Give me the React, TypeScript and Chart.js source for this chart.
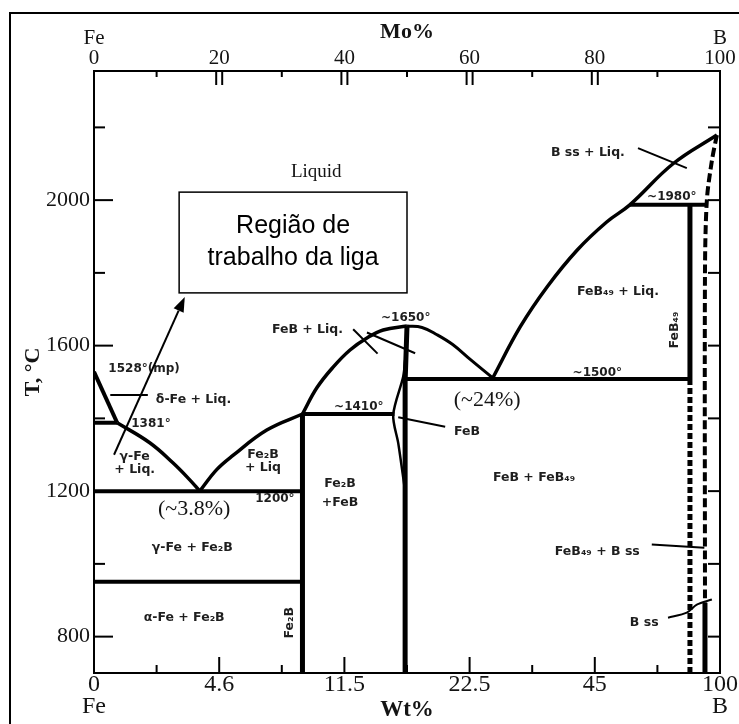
import React, { useEffect, useRef } from 'react';
import { Chart, registerables } from 'chart.js';

Chart.register(...registerables);

// ---------- axes ----------
const X_MIN = 0;
const X_MAX = 100;
const T_MIN = 700;
const T_MAX = 2355;
const atPercentTicks = [0, 20, 40, 60, 80, 100];
const wtPercentLabels = ['0', '4.6', '11.5', '22.5', '45', '100'];
const endElements = ['Fe', 'B'];
const tempTickLabels = [800, 1200, 1600, 2000];

// ---------- phase boundaries (x: at.% B, y: T in °C) ----------
const deltaLiquidus = [{ x: 0, y: 1528 }, { x: 3.7, y: 1388 }];
const peritecticFe = [{ x: 0, y: 1388 }, { x: 3.7, y: 1388 }];
const gammaLiquidus = [{ x: 3.7, y: 1388 }, { x: 8.9, y: 1333 }, { x: 12.6, y: 1278 }, { x: 15.3, y: 1231 }, { x: 16.9, y: 1200 }];
const fe2bLiquidus = [{ x: 16.9, y: 1200 }, { x: 19.6, y: 1259 }, { x: 22.2, y: 1298 }, { x: 27.6, y: 1368 }, { x: 33.3, y: 1412 }];
const eutectic1200 = [{ x: 0, y: 1200 }, { x: 33.3, y: 1200 }];
const alphaGammaLine = [{ x: 0, y: 951 }, { x: 33.3, y: 951 }];
const fe2bLine = [{ x: 33.3, y: 1412 }, { x: 33.3, y: 700 }];
const peritectic1410 = [{ x: 33.3, y: 1412 }, { x: 48, y: 1412 }];
const feBLiquidusLeft = [{ x: 33.3, y: 1412 }, { x: 35.6, y: 1484 }, { x: 38.2, y: 1541 }, { x: 40.9, y: 1588 }, { x: 43.6, y: 1621 }, { x: 46.2, y: 1643 }, { x: 50, y: 1654 }];
const feBLiquidusRight = [{ x: 50, y: 1654 }, { x: 52.4, y: 1650 }, { x: 54.8, y: 1630 }, { x: 57.3, y: 1603 }, { x: 60.1, y: 1562 }, { x: 63.7, y: 1511 }];
const feBLine = [{ x: 50, y: 1654 }, { x: 49.7, y: 1500 }, { x: 49.7, y: 700 }];
const feBLeftBoundary = [{ x: 49.7, y: 1560 }, { x: 49.4, y: 1515 }, { x: 47.8, y: 1410 }, { x: 48.6, y: 1332 }, { x: 49.3, y: 1249 }, { x: 49.7, y: 1200 }];
const eutectic1500 = [{ x: 49.7, y: 1508 }, { x: 95.2, y: 1508 }];
const feB49Liquidus = [{ x: 63.7, y: 1511 }, { x: 68.1, y: 1652 }, { x: 72.4, y: 1762 }, { x: 77.2, y: 1863 }, { x: 81.9, y: 1940 }, { x: 85.6, y: 1987 }, { x: 92.5, y: 2100 }, { x: 99.5, y: 2179 }];
const peritectic1980 = [{ x: 85.6, y: 1987 }, { x: 97.9, y: 1987 }];
const feB49Solid = [{ x: 95.2, y: 1987 }, { x: 95.2, y: 1508 }];
const feB49Dashed = [{ x: 95.2, y: 1508 }, { x: 95.2, y: 700 }];
const bSolvus = [{ x: 99.5, y: 2179 }, { x: 98.7, y: 2108 }, { x: 97.9, y: 2000 }, { x: 97.6, y: 1800 }, { x: 97.6, y: 893 }];
const bSolvusLower = [{ x: 97.6, y: 893 }, { x: 97.6, y: 700 }];

// ---------- label leader lines ----------
const leaderDeltaFe = [{ x: 2.6, y: 1464 }, { x: 8.6, y: 1464 }];
const leaderFeBLiq1 = [{ x: 41.4, y: 1645 }, { x: 45.3, y: 1578 }];
const leaderFeBLiq2 = [{ x: 43.6, y: 1636 }, { x: 51.3, y: 1579 }];
const leaderFeB = [{ x: 48.6, y: 1403 }, { x: 56.1, y: 1377 }];
const leaderBssLiq = [{ x: 86.9, y: 2143 }, { x: 94.7, y: 2088 }];
const leaderFeB49Bss = [{ x: 89.1, y: 1053 }, { x: 97.5, y: 1044 }];
const leaderBss = [{ x: 91.7, y: 852 }, { x: 94.7, y: 866 }, { x: 96.3, y: 888 }, { x: 98.7, y: 902 }];

// ---------- text labels (positions in data units) ----------
const serifLabels = [
  { text: '(~3.8%)', x: 16.0, y: 1149 },
  { text: '(~24%)', x: 62.8, y: 1451 },
];
const liquidLabel = [{ text: 'Liquid', x: 35.5, y: 2077 }];
const phaseLabels = [
  { text: 'δ-Fe + Liq.', x: 15.9, y: 1451 },
  { text: 'γ-Fe', x: 6.5, y: 1294 },
  { text: '+ Liq.', x: 6.5, y: 1259 },
  { text: 'Fe₂B', x: 27.0, y: 1300 },
  { text: '+ Liq', x: 27.0, y: 1264 },
  { text: 'Fe₂B', x: 39.3, y: 1220 },
  { text: '+FeB', x: 39.3, y: 1168 },
  { text: 'γ-Fe + Fe₂B', x: 15.7, y: 1044 },
  { text: 'α-Fe + Fe₂B', x: 14.4, y: 852 },
  { text: 'FeB + Liq.', x: 34.1, y: 1643 },
  { text: 'FeB', x: 59.6, y: 1363 },
  { text: 'FeB + FeB₄₉', x: 70.3, y: 1237 },
  { text: 'FeB₄₉ + Liq.', x: 83.7, y: 1747 },
  { text: 'B ss + Liq.', x: 78.9, y: 2129 },
  { text: 'FeB₄₉ + B ss', x: 80.4, y: 1033 },
  { text: 'B ss', x: 87.9, y: 838 },
];
const tempLabels = [
  { text: '1528°(mp)', x: 8.0, y: 1536 },
  { text: '1381°', x: 9.1, y: 1385 },
  { text: '1200°', x: 28.9, y: 1179 },
  { text: '~1650°', x: 49.8, y: 1676 },
  { text: '~1410°', x: 42.3, y: 1431 },
  { text: '~1500°', x: 80.4, y: 1525 },
  { text: '~1980°', x: 92.3, y: 2008 },
];
const rotatedLabels = [
  { text: 'Fe₂B', x: 31.3, y: 838 },
  { text: 'FeB₄₉', x: 92.8, y: 1643 },
];

// ---------- annotation ----------
const noteLines = ['Região de', 'trabalho da liga'];
const noteLineY = [1929, 1841];
const noteCenterX = 31.8;
const noteBox = { x1: 13.6, y1: 2022, x2: 50.0, y2: 1745 };
const noteArrow = { x1: 3.2, y1: 1300, x2: 14.5, y2: 1734 };

// ---------- helpers ----------
const BLACK = '#000';
const TEXT = '#141414';
const LABEL = '#1e1e1e';
const SERIF = '"Liberation Serif", "Times New Roman", serif';
const SANS = '"DejaVu Sans", "Liberation Sans", sans-serif';

function line(data: any[], width: number, extra: any = {}) {
  return {
    data,
    showLine: true,
    borderColor: BLACK,
    backgroundColor: BLACK,
    borderWidth: width,
    pointRadius: 0,
    pointHoverRadius: 0,
    fill: false,
    tension: 0,
    ...extra,
  };
}
const curve = { tension: 0.4 };

const inwardTicks = {
  id: 'inwardTicks',
  afterDatasetsDraw(chart: any) {
    const { ctx, chartArea: a, scales } = chart;
    ctx.save();
    ctx.strokeStyle = BLACK;
    ctx.lineWidth = 2;
    const seg = (x1: number, y1: number, x2: number, y2: number) => {
      ctx.beginPath();
      ctx.moveTo(x1, y1);
      ctx.lineTo(x2, y2);
      ctx.stroke();
    };
    scales.x.ticks.forEach((t: any) => {
      if (t.value <= X_MIN || t.value >= X_MAX) return;
      const p = scales.x.getPixelForValue(t.value);
      const major = atPercentTicks.includes(t.value);
      seg(p, a.bottom, p, a.bottom - (major ? 16 : 8));
    });
    scales.x2.ticks.forEach((t: any) => {
      if (t.value <= X_MIN || t.value >= X_MAX) return;
      const p = scales.x2.getPixelForValue(t.value);
      const major = atPercentTicks.includes(t.value);
      if (major) {
        seg(p - 3, a.top, p - 3, a.top + 14);
        seg(p + 3, a.top, p + 3, a.top + 14);
      } else {
        seg(p, a.top, p, a.top + 6);
      }
    });
    scales.y.ticks.forEach((t: any) => {
      const p = scales.y.getPixelForValue(t.value);
      const major = tempTickLabels.includes(t.value);
      seg(a.left, p, a.left + (major ? 19 : 11), p);
      seg(a.right, p, a.right - 12, p);
    });
    ctx.restore();
  },
};

const textAndNotes = {
  id: 'textAndNotes',
  afterDatasetsDraw(chart: any) {
    const { ctx, scales } = chart;
    const px = (v: number) => scales.x.getPixelForValue(v);
    const py = (v: number) => scales.y.getPixelForValue(v);
    ctx.save();
    ctx.textAlign = 'center';
    ctx.textBaseline = 'middle';
    const draw = (list: any[], font: string, color: string) => {
      ctx.font = font;
      ctx.fillStyle = color;
      list.forEach((l) => ctx.fillText(l.text, px(l.x), py(l.y)));
    };
    draw(serifLabels, `22px ${SERIF}`, TEXT);
    draw(liquidLabel, `19px ${SERIF}`, TEXT);
    draw(phaseLabels, `bold 12.5px ${SANS}`, LABEL);
    draw(tempLabels, `bold 12px ${SANS}`, LABEL);
    ctx.font = `bold 12.5px ${SANS}`;
    rotatedLabels.forEach((l) => {
      ctx.save();
      ctx.translate(px(l.x), py(l.y));
      ctx.rotate(-Math.PI / 2);
      ctx.fillText(l.text, 0, 0);
      ctx.restore();
    });

    // annotation box
    const bx1 = px(noteBox.x1), by1 = py(noteBox.y1), bx2 = px(noteBox.x2), by2 = py(noteBox.y2);
    ctx.fillStyle = '#fff';
    ctx.fillRect(bx1, by1, bx2 - bx1, by2 - by1);
    ctx.strokeStyle = BLACK;
    ctx.lineWidth = 1.5;
    ctx.strokeRect(bx1, by1, bx2 - bx1, by2 - by1);
    ctx.fillStyle = '#000';
    ctx.font = `25px "Liberation Sans", Arial, sans-serif`;
    noteLines.forEach((t, i) => ctx.fillText(t, px(noteCenterX), py(noteLineY[i])));

    // arrow
    const ax1 = px(noteArrow.x1), ay1 = py(noteArrow.y1), ax2 = px(noteArrow.x2), ay2 = py(noteArrow.y2);
    const ang = Math.atan2(ay2 - ay1, ax2 - ax1);
    const head = 15, half = 5.5;
    const bx = ax2 - head * Math.cos(ang), byy = ay2 - head * Math.sin(ang);
    ctx.lineWidth = 2;
    ctx.beginPath();
    ctx.moveTo(ax1, ay1);
    ctx.lineTo(bx, byy);
    ctx.stroke();
    ctx.beginPath();
    ctx.moveTo(ax2, ay2);
    ctx.lineTo(bx + half * Math.sin(ang), byy - half * Math.cos(ang));
    ctx.lineTo(bx - half * Math.sin(ang), byy + half * Math.cos(ang));
    ctx.closePath();
    ctx.fill();
    ctx.restore();
  },
};

export default function App() {
  const ref = useRef<HTMLCanvasElement>(null);

  useEffect(() => {
    if (!ref.current) return;
    const tickFontSerif = (size: number, lh: number) => ({ family: SERIF, size, lineHeight: lh });
    const chart = new Chart(ref.current, {
      type: 'scatter',
      data: {
        datasets: [
          line(deltaLiquidus, 4),
          line(peritecticFe, 4),
          line(gammaLiquidus, 3.5, curve),
          line(fe2bLiquidus, 3.5, curve),
          line(eutectic1200, 4),
          line(alphaGammaLine, 4),
          line(fe2bLine, 5),
          line(peritectic1410, 4),
          line(feBLiquidusLeft, 3.5, curve),
          line(feBLiquidusRight, 3, curve),
          line(feBLine, 5),
          line(feBLeftBoundary, 2.5, { tension: 0.3 }),
          line(eutectic1500, 4),
          line(feB49Liquidus, 3.5, curve),
          line(peritectic1980, 4),
          line(feB49Solid, 5),
          line(feB49Dashed, 5, { borderDash: [6, 3] }),
          line(bSolvus, 4, { tension: 0.3, borderDash: [9, 4] }),
          line(bSolvusLower, 5),
          line(leaderDeltaFe, 2),
          line(leaderFeBLiq1, 2),
          line(leaderFeBLiq2, 2),
          line(leaderFeB, 2),
          line(leaderBssLiq, 2),
          line(leaderFeB49Bss, 2),
          line(leaderBss, 2, { tension: 0.3 }),
        ] as any,
      },
      options: {
        responsive: false,
        animation: false,
        events: [],
        layout: { padding: { left: 20, right: 19, top: 19, bottom: 0 } },
        plugins: { legend: { display: false }, tooltip: { enabled: false } },
        scales: {
          x: {
            type: 'linear',
            position: 'bottom',
            min: X_MIN,
            max: X_MAX,
            grid: { display: false, drawTicks: false },
            border: { display: true, color: BLACK, width: 2 },
            ticks: {
              stepSize: 10,
              autoSkip: false,
              maxRotation: 0,
              padding: 1,
              color: TEXT,
              font: tickFontSerif(24, 0.9),
              callback: (v: any) => {
                const i = atPercentTicks.indexOf(Number(v));
                if (i < 0) return '';
                if (i === 0) return [wtPercentLabels[i], endElements[0]];
                if (i === atPercentTicks.length - 1) return [wtPercentLabels[i], endElements[1]];
                return wtPercentLabels[i];
              },
            },
            title: { display: true, text: 'Wt%', color: TEXT, padding: 0, font: { family: SERIF, size: 23, weight: 'bold', lineHeight: 1.2 } },
            afterFit: (s: any) => { s.height = 51; },
          },
          x2: {
            type: 'linear',
            position: 'top',
            min: X_MIN,
            max: X_MAX,
            grid: { display: false, drawTicks: false },
            border: { display: true, color: BLACK, width: 2 },
            ticks: {
              stepSize: 10,
              autoSkip: false,
              maxRotation: 0,
              padding: 3,
              color: TEXT,
              font: tickFontSerif(21, 0.95),
              callback: (v: any) => {
                const i = atPercentTicks.indexOf(Number(v));
                if (i < 0) return '';
                if (i === 0) return [endElements[0], String(atPercentTicks[i])];
                if (i === atPercentTicks.length - 1) return [endElements[1], String(atPercentTicks[i])];
                return String(atPercentTicks[i]);
              },
            },
            title: { display: true, text: 'Mo%', color: TEXT, padding: 0, font: { family: SERIF, size: 22, weight: 'bold', lineHeight: 1.2 } },
            afterFit: (s: any) => { s.height = 52; },
          },
          y: {
            type: 'linear',
            position: 'left',
            min: T_MIN,
            max: T_MAX,
            grid: { display: false, drawTicks: false },
            border: { display: true, color: BLACK, width: 2 },
            ticks: {
              stepSize: 200,
              includeBounds: false,
              autoSkip: false,
              padding: 4,
              color: TEXT,
              font: tickFontSerif(22, 1.0),
              callback: (v: any) => (tempTickLabels.includes(Number(v)) ? String(v) : ''),
            },
            title: { display: true, text: 'T, °C', color: TEXT, padding: 0, font: { family: SERIF, size: 22, weight: 'bold', lineHeight: 1.2 } },
            afterFit: (s: any) => { s.width = 74; },
          },
          y2: {
            type: 'linear',
            position: 'right',
            min: T_MIN,
            max: T_MAX,
            grid: { display: false, drawTicks: false },
            border: { display: true, color: BLACK, width: 2 },
            ticks: { display: false },
            afterFit: (s: any) => { s.width = 0; },
          },
        },
      } as any,
      plugins: [inwardTicks, textAndNotes],
    });
    return () => chart.destroy();
  }, []);

  return (
    <div style={{ position: 'fixed', left: 0, top: 0, width: 739, height: 724, background: '#fff', overflow: 'hidden' }}>
      <div style={{ position: 'absolute', left: 9, top: 12, width: 760, height: 760, borderTop: '2px solid #000', borderLeft: '2px solid #000' }} />
      <canvas ref={ref} width={739} height={724} style={{ position: 'absolute', left: 0, top: 0, width: 739, height: 724 }} />
    </div>
  );
}
